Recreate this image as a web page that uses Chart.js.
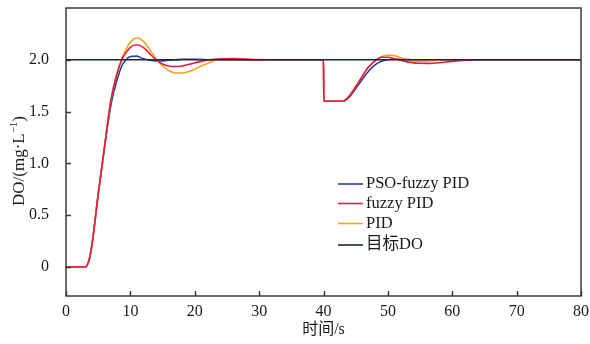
<!DOCTYPE html>
<html>
<head>
<meta charset="utf-8">
<script src="https://cdn.jsdelivr.net/npm/chart.js@4"></script>
<style>
html, body { margin: 0; padding: 0; background: #fff; }
</style>
</head>
<body>
<canvas id="c" width="590" height="344"></canvas>
<script>
// time axis (s) shared by the three controller responses
const time = [0, 3, 3.5, 4, 5, 6, 7, 8, 8.6, 9, 10, 11,
  12, 13, 14, 15, 16, 17, 18, 19, 20, 21, 22, 23, 24, 25, 26,
  28, 30, 35, 40, 40.05, 43,
  44, 45, 46, 47, 48, 49, 50, 51, 52, 53, 54, 55, 56, 57, 58,
  60, 62, 64, 66, 70, 75, 80];

const psoFuzzy = [0, 0, 0.05, 0.2, 0.7, 1.16, 1.57, 1.82, 1.93, 1.975, 2.032, 2.035,
  2.01, 1.995, 1.988, 1.99, 1.995, 2.0, 2.005, 2.006, 2.005, 2.003, 2.0, 2.0, 2.0, 2.0, 2.0,
  2.0, 2.0, 2.0, 2.0, 1.6, 1.6,
  1.64, 1.72, 1.81, 1.89, 1.95, 1.985, 2.0, 2.005, 2.005, 2.003, 2.0, 2.0, 2.0, 2.0, 2.0,
  2.0, 2.0, 2.0, 2.0, 2.0, 2.0, 2.0];

const fuzzy = [0, 0, 0.05, 0.2, 0.7, 1.17, 1.62, 1.88, 1.99, 2.04, 2.12, 2.145,
  2.12, 2.06, 2.0, 1.96, 1.94, 1.935, 1.94, 1.955, 1.97, 1.985, 1.997, 2.005, 2.008, 2.01, 2.01,
  2.005, 2.0, 2.0, 2.0, 1.6, 1.6,
  1.65, 1.74, 1.84, 1.93, 1.99, 2.025, 2.025, 2.01, 1.995, 1.98, 1.97, 1.966, 1.965, 1.967, 1.972,
  1.985, 1.995, 2.0, 2.0, 2.0, 2.0, 2.0];

const pid = [0, 0, 0.05, 0.2, 0.7, 1.17, 1.62, 1.89, 2.0, 2.06, 2.17, 2.21,
  2.18, 2.10, 2.01, 1.94, 1.895, 1.872, 1.872, 1.885, 1.91, 1.94, 1.965, 1.99, 2.005, 2.012, 2.014,
  2.008, 2.002, 2.0, 2.0, 1.6, 1.6,
  1.65, 1.74, 1.84, 1.93, 1.99, 2.03, 2.045, 2.04, 2.02, 2.0, 1.99, 1.987, 1.988, 1.992, 1.996,
  2.0, 2.0, 2.0, 2.0, 2.0, 2.0, 2.0];

const targetTime = [0, 80];
const targetDO = [2.0, 2.0];

const seriesNames = ['PSO-fuzzy PID', 'fuzzy PID', 'PID', '目标DO'];
const seriesColors = ['#2e3a96', '#e21e48', '#f6a21c', '#1b2b38'];

const xTicks = [0, 10, 20, 30, 40, 50, 60, 70, 80];
const yTicks = [0, 0.5, 1.0, 1.5, 2.0];
const yTickLabels = ['0', '0.5', '1.0', '1.5', '2.0'];

const xTitle = '时间/s';

const SERIF = "'Liberation Serif', 'Times New Roman', 'Noto Sans CJK SC', serif";

const toPoints = (xs, ys) => xs.map((t, i) => ({x: t, y: ys[i]}));

const lineSet = (idx, xs, ys, order) => ({
  label: seriesNames[idx],
  data: toPoints(xs, ys),
  borderColor: seriesColors[idx],
  backgroundColor: seriesColors[idx],
  borderWidth: 1.6,
  pointRadius: 0,
  cubicInterpolationMode: 'monotone',
  order
});

// frame, inward ticks, titles and legend
const decor = {
  id: 'decor',
  afterDatasetsDraw(chart) {
    const {ctx, chartArea: a, scales: {x, y}} = chart;
    ctx.save();
    ctx.strokeStyle = '#3a3a3a';
    ctx.lineWidth = 1.5;
    ctx.strokeRect(a.left, a.top, a.right - a.left, a.bottom - a.top);
    ctx.beginPath();
    yTicks.forEach(v => {
      const py = Math.round(y.getPixelForValue(v)) + 0.5;
      ctx.moveTo(a.left, py); ctx.lineTo(a.left + 5, py);
    });
    xTicks.forEach(v => {
      const px = Math.round(x.getPixelForValue(v)) + 0.5;
      ctx.moveTo(px, a.bottom); ctx.lineTo(px, a.bottom - 5);
    });
    ctx.stroke();

    // x title
    ctx.fillStyle = '#1a1a1a';
    ctx.font = '16px ' + SERIF;
    ctx.textAlign = 'center';
    ctx.textBaseline = 'middle';
    ctx.fillText(xTitle, (a.left + a.right) / 2, 330);

    // y title: DO/(mg·L^-1)
    ctx.save();
    ctx.translate(20, 161);
    ctx.rotate(-Math.PI / 2);
    const big = '17px ' + SERIF, small = '11px ' + SERIF;
    const parts = [['DO/(mg·L', big, 0], ['−1', small, -6], [')', big, 0]];
    let total = 0;
    parts.forEach(p => { ctx.font = p[1]; total += ctx.measureText(p[0]).width; });
    let cx = -total / 2;
    ctx.textAlign = 'left';
    parts.forEach(p => {
      ctx.font = p[1];
      ctx.fillText(p[0], cx, p[2]);
      cx += ctx.measureText(p[0]).width;
    });
    ctx.restore();

    // legend
    const rows = [184, 203.5, 223.5, 245];
    ctx.font = '16.5px ' + SERIF;
    ctx.textAlign = 'left';
    ctx.textBaseline = 'middle';
    chart.data.datasets.forEach((ds, i) => {
      ctx.strokeStyle = ds.borderColor;
      ctx.lineWidth = 1.6;
      ctx.beginPath();
      ctx.moveTo(338, rows[i]); ctx.lineTo(363, rows[i]);
      ctx.stroke();
      ctx.fillStyle = '#1a1a1a';
      ctx.fillText(ds.label, 366, rows[i]);
    });
    ctx.restore();
  }
};

new Chart(document.getElementById('c'), {
  type: 'line',
  data: {
    datasets: [
      lineSet(0, time, psoFuzzy, 3),
      lineSet(1, time, fuzzy, 1),
      lineSet(2, time, pid, 2),
      lineSet(3, targetTime, targetDO, 0)
    ]
  },
  options: {
    responsive: false,
    animation: false,
    devicePixelRatio: 1,
    layout: {padding: {left: 0, top: 8, right: 9, bottom: 0}},
    plugins: {legend: {display: false}, tooltip: {enabled: false}},
    scales: {
      x: {
        type: 'linear',
        min: 0,
        max: 80,
        afterFit: s => { s.height = 48; s.paddingLeft = 0; s.paddingRight = 0; },
        afterBuildTicks: s => { s.ticks = xTicks.map(v => ({value: v})); },
        grid: {display: false},
        border: {display: false},
        ticks: {
          color: '#1a1a1a',
          padding: -2,
          maxRotation: 0,
          font: {family: SERIF, size: 16}
        }
      },
      y: {
        type: 'linear',
        min: -0.28,
        max: 2.5,
        afterFit: s => { s.width = 66; s.paddingTop = 0; s.paddingBottom = 0; },
        afterBuildTicks: s => { s.ticks = yTicks.map(v => ({value: v})); },
        grid: {display: false},
        border: {display: false},
        ticks: {
          color: '#1a1a1a',
          padding: 9,
          font: {family: SERIF, size: 16},
          callback: v => yTickLabels[yTicks.indexOf(v)] ?? ''
        }
      }
    }
  },
  plugins: [decor]
});
</script>
</body>
</html>
